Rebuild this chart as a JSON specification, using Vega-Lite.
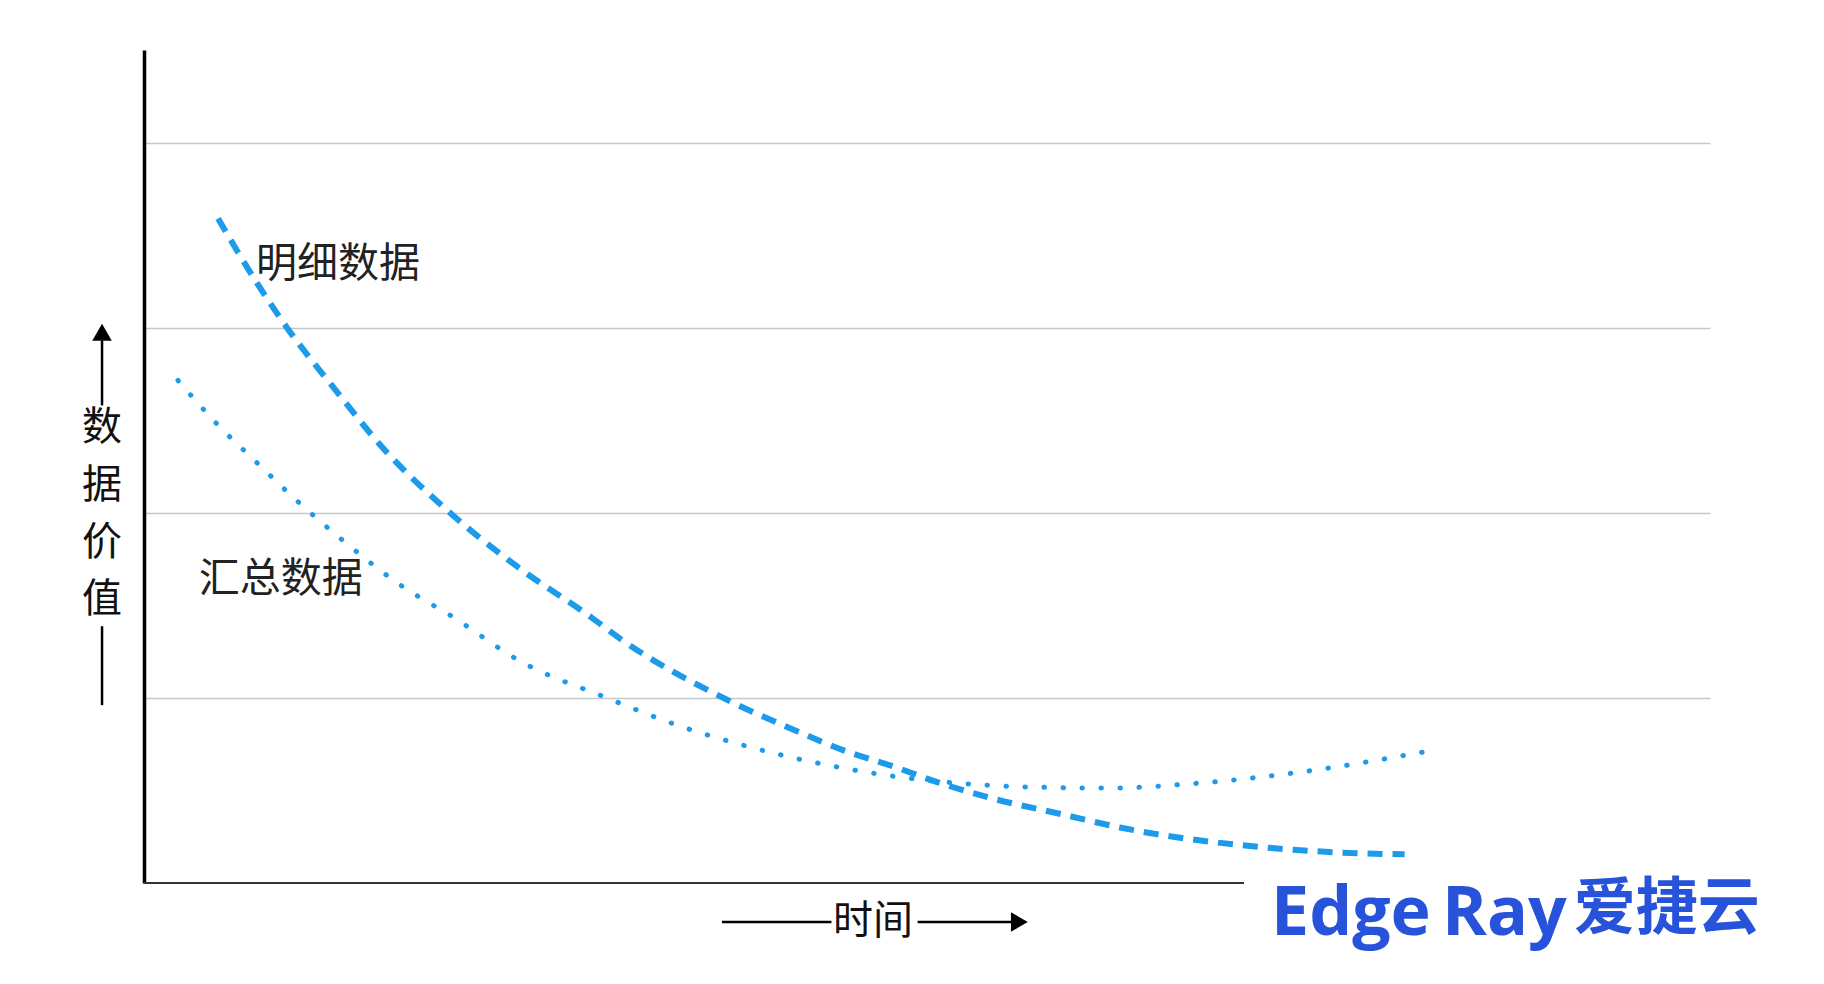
{
  "$schema": "https://vega.github.io/schema/vega-lite/v6.json",
  "width": 1566,
  "height": 833,
  "autosize": {"type": "none"},
  "padding": {"left": 144, "top": 50, "right": 114, "bottom": 101},
  "background": "#ffffff",
  "config": {"view": {"stroke": null}},
  "datasets": {
    "curves": [
      {"series": "明细数据", "x": 4.73, "y": 3.59},
      {"series": "明细数据", "x": 7.22, "y": 3.24},
      {"series": "明细数据", "x": 9.13, "y": 3.0},
      {"series": "明细数据", "x": 12.07, "y": 2.68},
      {"series": "明细数据", "x": 15.26, "y": 2.35},
      {"series": "明细数据", "x": 19.54, "y": 2.0},
      {"series": "明细数据", "x": 23.82, "y": 1.71},
      {"series": "明细数据", "x": 28.48, "y": 1.44},
      {"series": "明细数据", "x": 30.4, "y": 1.32},
      {"series": "明细数据", "x": 37.23, "y": 0.99},
      {"series": "明细数据", "x": 41.7, "y": 0.82},
      {"series": "明细数据", "x": 44.89, "y": 0.71},
      {"series": "明细数据", "x": 47.83, "y": 0.63},
      {"series": "明细数据", "x": 50.83, "y": 0.54},
      {"series": "明细数据", "x": 54.02, "y": 0.46},
      {"series": "明细数据", "x": 58.68, "y": 0.37},
      {"series": "明细数据", "x": 62.32, "y": 0.3},
      {"series": "明细数据", "x": 69.99, "y": 0.205},
      {"series": "明细数据", "x": 73.37, "y": 0.18},
      {"series": "明细数据", "x": 77.0, "y": 0.162},
      {"series": "明细数据", "x": 80.5, "y": 0.155},
      {"series": "汇总数据", "x": 2.17, "y": 2.715},
      {"series": "汇总数据", "x": 4.66, "y": 2.48},
      {"series": "汇总数据", "x": 7.22, "y": 2.27},
      {"series": "汇总数据", "x": 9.96, "y": 2.05},
      {"series": "汇总数据", "x": 12.71, "y": 1.85},
      {"series": "汇总数据", "x": 16.54, "y": 1.6},
      {"series": "汇总数据", "x": 19.67, "y": 1.44},
      {"series": "汇总数据", "x": 24.2, "y": 1.19},
      {"series": "汇总数据", "x": 29.44, "y": 1.004},
      {"series": "汇总数据", "x": 34.04, "y": 0.853},
      {"series": "汇总数据", "x": 38.7, "y": 0.734},
      {"series": "汇总数据", "x": 43.36, "y": 0.642},
      {"series": "汇总数据", "x": 48.28, "y": 0.572},
      {"series": "汇总数据", "x": 51.92, "y": 0.54},
      {"series": "汇总数据", "x": 56.77, "y": 0.518},
      {"series": "汇总数据", "x": 61.69, "y": 0.513},
      {"series": "汇总数据", "x": 66.54, "y": 0.534},
      {"series": "汇总数据", "x": 73.82, "y": 0.599},
      {"series": "汇总数据", "x": 82.5, "y": 0.72}
    ],
    "seriesLabels": [
      {"text": "明细数据", "x": 7.15, "y": 3.336},
      {"text": "汇总数据", "x": 3.5, "y": 1.636}
    ],
    "axisTitles": [
      {"text": "数", "x": -2.68, "y": 2.456},
      {"text": "据", "x": -2.68, "y": 2.143},
      {"text": "价", "x": -2.68, "y": 1.835},
      {"text": "值", "x": -2.68, "y": 1.528},
      {"text": "时间", "x": 46.55, "y": -0.2105}
    ],
    "axisLines": [
      {"x": 0, "x2": 70.24, "y": 0, "y2": 0}
    ],
    "arrowLines": [
      {"x": -2.68, "x2": -2.68, "y": 2.58, "y2": 2.93},
      {"x": -2.68, "x2": -2.68, "y": 0.961, "y2": 1.387},
      {"x": 36.91, "x2": 43.9, "y": -0.2105, "y2": -0.2105},
      {"x": 49.4, "x2": 55.5, "y": -0.2105, "y2": -0.2105}
    ],
    "upHeads": [{"x": -2.68, "y": 2.975}],
    "rightHeads": [{"x": 55.9, "y": -0.2105}],
    "logoLatin": [
      {"text": "Edge", "x": 71.97, "y": -0.281},
      {"text": "Ray", "x": 82.89, "y": -0.281}
    ],
    "logoCJK": [{"text": "爱捷云", "x": 91.3, "y": -0.146}]
  },
  "encoding": {
    "x": {"field": "x", "type": "quantitative", "scale": {"domain": [0, 100], "nice": false, "zero": false}, "axis": null},
    "y": {
      "field": "y", "type": "quantitative",
      "scale": {"domain": [0, 4.5], "nice": false, "zero": false},
      "axis": {"title": null, "values": [1, 2, 3, 4], "grid": true, "gridColor": "#c8c8c8", "gridWidth": 1.5, "ticks": false, "labels": false, "domain": true, "domainColor": "#000000", "domainWidth": 3.5}
    }
  },
  "layer": [
    {
      "data": {"name": "axisLines"},
      "mark": {"type": "rule", "color": "#333333", "strokeWidth": 2},
      "encoding": {"x2": {"field": "x2"}, "y2": {"field": "y2"}}
    },
    {
      "data": {"name": "curves"},
      "transform": [{"filter": "datum.series === '明细数据'"}],
      "mark": {"type": "line", "interpolate": "monotone", "color": "#1d9bea", "strokeWidth": 6, "strokeDash": [15, 10], "strokeCap": "butt"},
      "encoding": {"order": {"field": "x", "type": "quantitative"}}
    },
    {
      "data": {"name": "curves"},
      "transform": [{"filter": "datum.series === '汇总数据'"}],
      "mark": {"type": "line", "interpolate": "monotone", "color": "#1d9bea", "strokeWidth": 5, "strokeDash": [0.5, 18.5], "strokeCap": "round"},
      "encoding": {"order": {"field": "x", "type": "quantitative"}}
    },
    {
      "data": {"name": "seriesLabels"},
      "mark": {"type": "text", "align": "left", "baseline": "middle", "font": "Noto Sans CJK SC", "fontSize": 41, "color": "#222222"},
      "encoding": {"text": {"field": "text"}}
    },
    {
      "data": {"name": "axisTitles"},
      "mark": {"type": "text", "align": "center", "baseline": "middle", "font": "Noto Sans CJK SC", "fontSize": 40, "color": "#111111"},
      "encoding": {"text": {"field": "text"}}
    },
    {
      "data": {"name": "arrowLines"},
      "mark": {"type": "rule", "color": "#000000", "strokeWidth": 2.5},
      "encoding": {"x2": {"field": "x2"}, "y2": {"field": "y2"}}
    },
    {
      "data": {"name": "upHeads"},
      "mark": {"type": "point", "shape": "triangle-up", "filled": true, "color": "#000000", "size": 380, "opacity": 1}
    },
    {
      "data": {"name": "rightHeads"},
      "mark": {"type": "point", "shape": "triangle-right", "filled": true, "color": "#000000", "size": 380, "opacity": 1}
    },
    {
      "data": {"name": "logoLatin"},
      "mark": {"type": "text", "align": "left", "baseline": "alphabetic", "font": "Open Sans", "fontWeight": "bold", "fontSize": 68, "color": "#2753db"},
      "encoding": {"text": {"field": "text"}}
    },
    {
      "data": {"name": "logoCJK"},
      "mark": {"type": "text", "align": "left", "baseline": "middle", "font": "Noto Sans CJK SC", "fontWeight": "bold", "fontSize": 62, "color": "#2753db"},
      "encoding": {"text": {"field": "text"}}
    }
  ]
}
